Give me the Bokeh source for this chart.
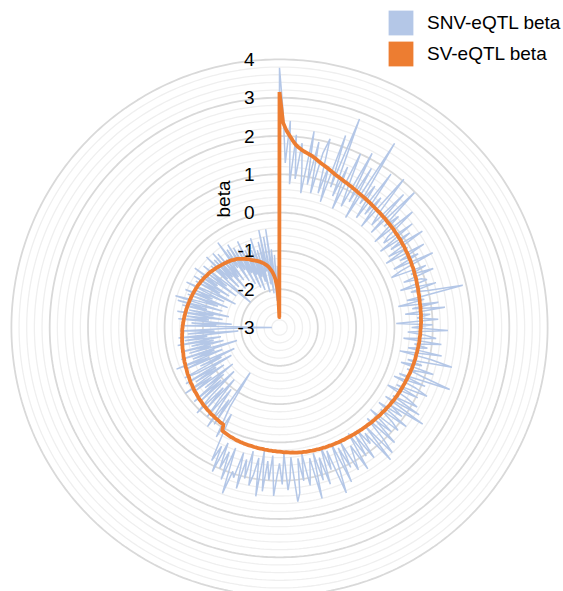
import numpy as np
from bokeh.plotting import figure
from bokeh.models import Range1d, Legend, LegendItem, ColumnDataSource
from bokeh.core.properties import value
from bokeh.embed import file_html
from bokeh.resources import INLINE

# ---------------- data ----------------
axis_min = -3
axis_max = 4
tick_labels = ["4", "3", "2", "1", "0", "-1", "-2", "-3"]
tick_values = [4, 3, 2, 1, 0, -1, -2, -3]
series_names = ["SNV-eQTL beta", "SV-eQTL beta"]

sv_beta = [
    3.15, 2.35, 2.15, 2.02, 1.90, 1.80, 1.73, 1.68, 1.64, 1.61,
    1.58, 1.55, 1.51, 1.47, 1.43, 1.40, 1.37, 1.34, 1.31, 1.28,
    1.25,
    1.23, 1.21, 1.19, 1.17, 1.16, 1.14, 1.13, 1.11, 1.10, 1.08,
    1.07, 1.06, 1.05, 1.04, 1.03, 1.02, 1.01, 1.00, 0.99, 0.98,
    0.98, 0.97, 0.96, 0.96, 0.95, 0.94, 0.94, 0.93, 0.93, 0.92,
    0.91, 0.91, 0.90, 0.90, 0.89, 0.88, 0.88, 0.87, 0.86, 0.86,
    0.85, 0.84, 0.84, 0.83, 0.82, 0.82, 0.81, 0.80, 0.79, 0.79,
    0.78, 0.77, 0.76, 0.76, 0.75, 0.74, 0.74, 0.73, 0.73, 0.72,
    0.72, 0.72, 0.71, 0.71, 0.71, 0.70, 0.70, 0.70, 0.69, 0.69,
    0.68, 0.68, 0.68, 0.67, 0.67, 0.67, 0.66, 0.66, 0.65, 0.65,
    0.64, 0.64, 0.64, 0.63, 0.63, 0.62, 0.62, 0.61, 0.61, 0.60,
    0.59, 0.59, 0.58, 0.58, 0.57, 0.57, 0.56, 0.56, 0.55, 0.55,
    0.54, 0.54, 0.53, 0.52, 0.52, 0.51, 0.50, 0.50, 0.49, 0.48,
    0.48, 0.47, 0.46, 0.46, 0.45, 0.45, 0.44, 0.43, 0.43, 0.42,
    0.42, 0.41, 0.41, 0.40, 0.40, 0.39, 0.39, 0.38, 0.38, 0.38,
    0.37, 0.37, 0.37, 0.36, 0.36, 0.36, 0.35, 0.35, 0.35, 0.34,
    0.34, 0.34, 0.33, 0.33, 0.33, 0.32, 0.32, 0.32, 0.31, 0.31,
    0.30, 0.30, 0.29, 0.28, 0.28, 0.27, 0.26, 0.26, 0.25, 0.24,
    0.24, 0.23, 0.23, 0.22, 0.22, 0.21, 0.21, 0.20, 0.20, 0.20,
    0.19, 0.19, 0.18, 0.18, 0.18, 0.17, 0.17, 0.16, 0.16, 0.15,
    0.15, 0.14, 0.13, 0.13, 0.12, 0.11, 0.10, 0.09, 0.08, -0.07,
    -0.08, -0.08, -0.09, -0.10, -0.10, -0.11, -0.12, -0.12, -0.13, -0.14,
    -0.14, -0.15, -0.16, -0.16, -0.17, -0.18, -0.19, -0.19, -0.20, -0.21,
    -0.22, -0.23, -0.23, -0.24, -0.25, -0.26, -0.27, -0.27, -0.28, -0.29,
    -0.30, -0.31, -0.31, -0.32, -0.33, -0.34, -0.34, -0.35, -0.36, -0.36,
    -0.37, -0.38, -0.38, -0.39, -0.40, -0.40, -0.41, -0.41, -0.42, -0.42,
    -0.43, -0.43, -0.44, -0.44, -0.45, -0.45, -0.46, -0.46, -0.46, -0.47,
    -0.47, -0.48, -0.48, -0.49, -0.49, -0.50, -0.50, -0.51, -0.51, -0.52,
    -0.52, -0.53, -0.53, -0.54, -0.54, -0.55, -0.55, -0.56, -0.56, -0.57,
    -0.57, -0.58, -0.58, -0.59, -0.59, -0.60, -0.60, -0.61, -0.62, -0.62,
    -0.63, -0.64, -0.64, -0.65, -0.66, -0.67, -0.67, -0.68, -0.69, -0.70,
    -0.71, -0.72, -0.73, -0.74, -0.75, -0.76, -0.77, -0.78, -0.79, -0.80,
    -0.81, -0.82, -0.83, -0.84, -0.85, -0.87, -0.88, -0.89, -0.91, -0.93,
    -0.95, -0.97, -0.99, -1.01, -1.03, -1.05, -1.08, -1.10, -1.12, -1.14,
    -1.16, -1.18, -1.20, -1.22, -1.25, -1.27, -1.30, -1.33, -1.36, -1.40,
    -1.45, -1.50, -1.56, -1.63, -1.72, -1.84, -2.00, -2.30, -2.73,
]

snv_beta = [
    3.78, 2.60, 1.30, 2.40,
    0.75, 2.05, 0.90, 1.85, 1.20, 0.55, 2.20, 0.80, 1.95, 0.60,
    1.70, 2.10, 0.65, 1.40, 0.45, 2.30, 0.90, 2.83, 0.70, 1.55,
    0.40, 2.00, 1.10, 0.55, 2.15, 0.75, 1.80, 0.35, 2.67, 0.85,
    1.45, 0.50, 1.95, 0.70, 1.30, 0.40, 2.05, 0.95, 0.60, 1.75,
    0.45, 1.98, 0.80, 1.25, 0.35, 1.60, 0.70, 0.50, 1.40, 0.30,
    1.20, 0.55, 1.50, 0.40, 0.95, 0.25, 1.35, 0.60, 1.10, 0.35,
    1.45, 0.50, 0.20, 1.15, 0.70, 1.30, 0.45, 0.90, 1.05, 0.30,
    1.25, 0.55, 1.00, 1.91, 0.40, 0.85, 0.15, 1.20, 0.50, 1.35,
    0.30, 0.95, 0.60, 1.15, 0.05, 1.00, 0.45, 1.40, 0.35, 0.80,
    1.10, 0.25, 1.25, 0.55, 0.90, 0.40, 1.30, 0.20, 1.05, 1.62,
    0.45, 0.85, 0.30, 1.20, 0.50, 0.95, 1.73, 0.35, 1.10, 0.25,
    0.90, 1.25, 0.40, 1.05, 0.20, 0.80, 1.15, 0.45, 1.30, 0.30,
    1.51, 0.55, 0.95, 0.25, 1.20, 0.40, 0.85, 1.10, 0.20, 1.00,
    0.50, 1.25, 0.30, 0.95, 1.40, 0.40, 1.51, 0.55, 0.85, 0.35,
    1.20, 0.45, 1.05, 0.30, 1.35, 0.60, 0.90, 1.25, 0.40, 1.10,
    0.50, 1.45, 0.35, 1.00, 1.66, 0.45, 0.95, 0.30, 1.30, 0.55,
    1.15, 0.40, 1.60, 0.50, 0.85, 1.20, 0.35, 1.05, 0.45, 1.35,
    1.57, 0.40, 0.95, 1.25, 0.30, 1.10, 0.55, 0.90, 1.40, 0.35,
    1.00, 0.50, 1.30, 0.25, 1.45, 0.45, 0.90, 1.20, 0.30, 1.05,
    0.55, 1.35, 0.40, 1.10, 0.95, 1.58, 0.35, 1.25, 0.50, 1.00,
    0.30, 1.15, 0.45, 0.90, 0.20, -0.41,
    0.30, -0.20, -0.55, -1.59, 0.05, -0.70, 0.20, -0.40, -0.95, 0.00,
    -0.60, -1.20, -0.15, -0.85, 0.10, -0.45, -1.35, -0.20, -0.95, -0.05,
    -1.10, -0.50, -1.45, -0.25, -0.80, 0.00, -1.25, -0.40, -1.05, -0.15,
    -1.55, -0.55, -0.20, -1.30, -0.70, -1.70, -0.35, -1.00, -0.10, -1.40,
    -0.60, -1.20, -0.30, -1.84, -0.55, -1.15, -0.35, -1.50, -0.65, -1.25,
    -0.30, -1.45, -0.50, -1.10, -0.35, -1.92, -0.60, -1.30, -0.40, -1.60,
    -2.80, -0.45, -1.35, -0.70, -1.75, -0.35, -1.15, -0.55, -1.50, -0.30,
    -1.25, -0.60, -1.65, -0.40, -1.05, -0.25, -1.45, -0.16, -0.75, -1.30,
    -0.45, -1.55, -0.35, -1.10, -0.60, -1.40, -0.30, -0.90, -1.70, -0.50,
    -1.20, -0.40, -1.45, -0.55, -1.05, -0.30, -1.60, -0.70, -1.25, -0.45,
    -1.35, -2.00, -0.60, -1.15, -0.35, -1.50, -0.55, -1.20, -0.40, -1.65,
    -0.50, -1.30, -0.75, -1.45, -0.26, -1.10, -0.55, -1.55, -0.45, -1.25,
    -0.60, -1.70, -0.70, -1.40, -0.50, -1.85, -0.80, -1.50, -0.65, -1.95,
    -0.85, -1.60, -0.55, -1.75, -0.90, -2.05, -0.70, -1.50, -0.40, -1.85,
    -0.60, -2.10, -0.41, -1.65, -0.95, -2.30, -1.10, -2.45, -1.40, -2.60,
]

assert len(sv_beta) == len(snv_beta), (len(sv_beta), len(snv_beta))

# ---------------- styling ----------------
BLUE = "#b4c7e7"
ORANGE = "#ed7d31"
GRID_MAJOR = "#d9d9d9"
GRID_MINOR = "#efefef"
FONT = value("Liberation Sans")

N = len(sv_beta)
theta = np.arange(N) * 2 * np.pi / N

def polar(vals):
    r = np.asarray(vals, dtype=float) - axis_min
    x = r * np.sin(theta)
    y = r * np.cos(theta)
    return np.append(x, x[0]), np.append(y, y[0])

W, H = 563, 591
UNIT = 38.3
CX, CY = 279, 327  # pixel position of the centre within the figure
p = figure(width=W, height=H,
           x_range=Range1d(-CX / UNIT, (W - CX) / UNIT),
           y_range=Range1d(-(H - CY) / UNIT, CY / UNIT),
           output_backend="svg", toolbar_location=None, min_border=0)
p.axis.visible = False
p.grid.visible = False
p.outline_line_color = None
p.background_fill_color = "white"

# gridline polygons (every 0.2, darker at integers)
steps = int(round((axis_max - axis_min) / 0.2))
minor_xs, minor_ys, major_xs, major_ys = [], [], [], []
for k in range(1, steps + 1):
    rr = k * 0.2
    gx = list(np.append(rr * np.sin(theta), 0.0))
    gy = list(np.append(rr * np.cos(theta), rr))
    if k % 5 == 0:
        major_xs.append(gx); major_ys.append(gy)
    else:
        minor_xs.append(gx); minor_ys.append(gy)
p.multi_line(minor_xs, minor_ys, line_color=GRID_MINOR, line_width=1.3)
p.multi_line(major_xs, major_ys, line_color=GRID_MAJOR, line_width=1.8)

# series
sx, sy = polar(snv_beta)
p.line(sx, sy, line_color=BLUE, line_width=1.5)
vx, vy = polar(sv_beta)
p.line(vx, vy, line_color=ORANGE, line_width=3.8, line_join="round")

# radial axis labels
lab_src = ColumnDataSource(dict(
    x=[-25 / UNIT] * len(tick_values),
    y=[v - axis_min for v in tick_values],
    t=tick_labels))
p.text(x="x", y="y", text="t", source=lab_src, text_align="right",
       text_baseline="middle", text_font=FONT, text_font_size="19px",
       text_color="#000000")
p.text(x=[-56.5 / UNIT], y=[128.5 / UNIT], text=["beta"], angle=np.pi / 2,
       text_align="center", text_baseline="middle", text_font=FONT,
       text_font_size="19px", text_color="#000000")

# legend with square swatches
leg_blue = p.rect(x=[np.nan], y=[np.nan], width=1, height=1,
                  fill_color=BLUE, line_color=None)
leg_orange = p.rect(x=[np.nan], y=[np.nan], width=1, height=1,
                    fill_color=ORANGE, line_color=None)
legend = Legend(items=[LegendItem(label=series_names[0], renderers=[leg_blue]),
                       LegendItem(label=series_names[1], renderers=[leg_orange])],
                location=(385, 522), glyph_width=31, glyph_height=31,
                spacing=-2, padding=0, margin=0, label_standoff=11,
                border_line_color=None, background_fill_alpha=0,
                label_text_font="Liberation Sans", label_text_font_size="19px",
                label_text_color="#000000")
p.add_layout(legend)

open("out.html", "w").write(file_html(p, INLINE))
